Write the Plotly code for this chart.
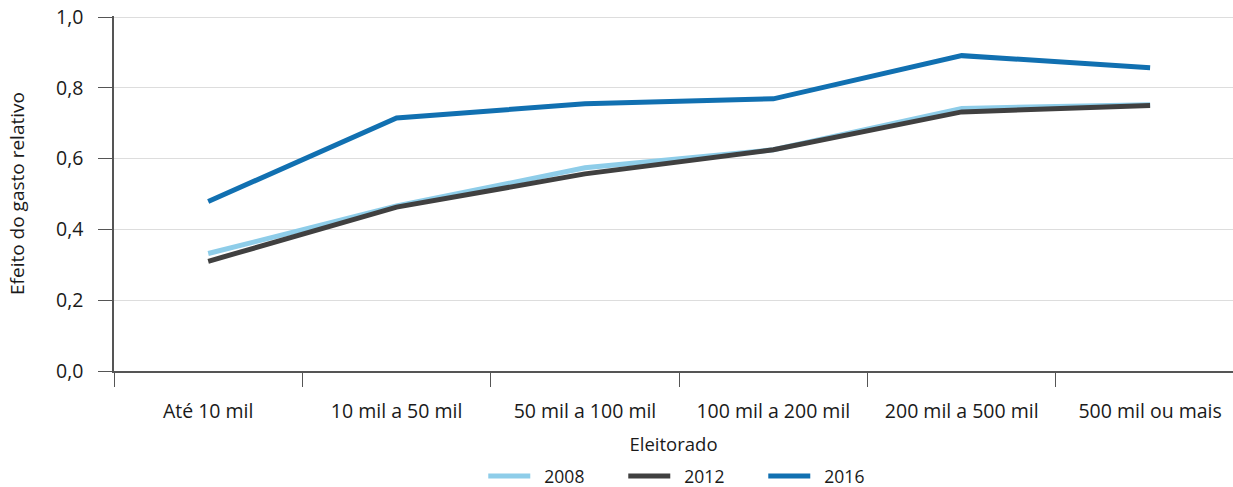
import plotly.graph_objects as go

categories = ["Até 10 mil", "10 mil a 50 mil", "50 mil a 100 mil", "100 mil a 200 mil",
              "200 mil a 500 mil", "500 mil ou mais"]
v2008 = [0.332, 0.466, 0.574, 0.625, 0.742, 0.752]
v2012 = [0.310, 0.463, 0.557, 0.625, 0.732, 0.750]
v2016 = [0.479, 0.715, 0.755, 0.769, 0.891, 0.857]
series = [("2008", v2008, "#8ecde9"), ("2012", v2012, "#404040"), ("2016", v2016, "#1170b1")]

FONT = "Open Sans"
fig = go.Figure()
for name, vals, col in series:
    fig.add_trace(go.Scatter(x=categories, y=vals, name="\u00a0\u00a0" + name, mode="lines",
                             line=dict(color=col, width=5)))

fig.update_layout(
    width=1233, height=487,
    margin=dict(l=114, r=0, t=16, b=116, autoexpand=False),
    paper_bgcolor="white", plot_bgcolor="white",
    separators=",.",
    font=dict(family=FONT, size=18, color="#1a1a1a"),
    showlegend=True,
    legend=dict(orientation="h", x=0.330, xanchor="left", y=-0.296, yanchor="middle",
                font=dict(size=17.5), itemwidth=42, tracegroupgap=0,
                entrywidth=83, entrywidthmode="pixels"),
)
fig.update_xaxes(
    type="category", range=[-0.5, 5.44], automargin=False,
    showline=True, linecolor="#555555", linewidth=1.5,
    ticks="outside", tickson="boundaries", ticklen=14, tickcolor="#555555", tickwidth=1,
    ticklabelstandoff=22, tickfont=dict(size=19.5),
    showgrid=False,
    title=dict(text="Eleitorado", standoff=15, font=dict(size=18.5)),
)
fig.update_yaxes(
    range=[0, 1.003], tickvals=[0, 0.2, 0.4, 0.6, 0.8, 1.0], tickformat=".1f",
    automargin=False, ticklabeloverflow="allow",
    showline=True, linecolor="#555555", linewidth=1.5,
    ticks="outside", ticklen=14, tickcolor="#555555",
    ticklabelstandoff=11, tickfont=dict(size=19.5),
    showgrid=True, gridcolor="#dddddd", gridwidth=1,
    zeroline=False,
    title=dict(text="Efeito do gasto relativo", standoff=26, font=dict(size=19)),
)
fig.write_html("out.html", config={"displayModeBar": False},
               post_script="document.body.style.margin='0';document.body.style.overflow='hidden';")
